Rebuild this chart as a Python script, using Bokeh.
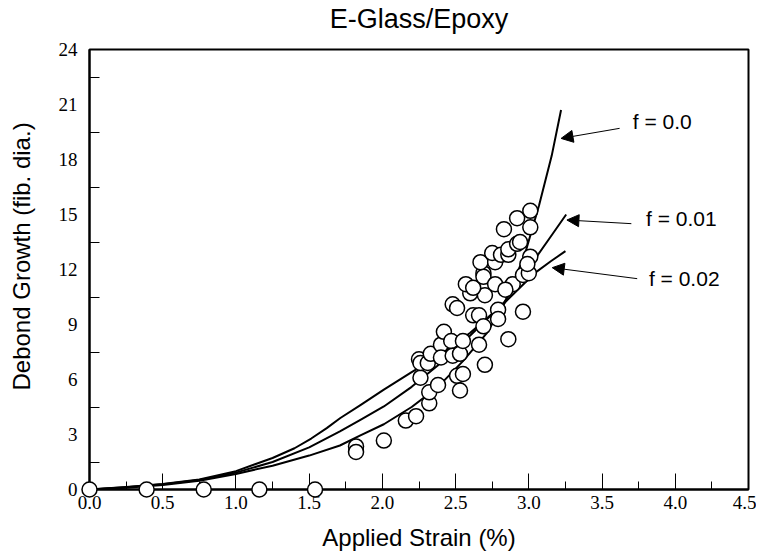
from bokeh.plotting import figure
from bokeh.models import Range1d, Label, Arrow, NormalHead, FixedTicker, Title
from bokeh.embed import file_html
from bokeh.resources import INLINE

# --- data -------------------------------------------------------------
strain_pts = [0.0, 0.39, 0.78, 1.16, 1.54,
              1.82, 1.82, 2.01, 2.16, 2.23, 2.32, 2.32, 2.38, 2.51, 2.53, 2.55,
              2.26, 2.25, 2.26, 2.31, 2.33, 2.40, 2.40, 2.42, 2.47, 2.48, 2.53,
              2.48, 2.51, 2.62, 2.66, 2.79, 2.79, 2.96, 2.69, 2.86, 2.66, 2.70,
              2.55, 2.60, 2.70, 2.57, 2.62, 2.69, 2.69, 2.77, 2.89, 2.84, 2.96,
              3.00, 2.67, 2.77, 2.75, 2.81, 2.86, 2.86, 2.92, 2.94, 3.01, 2.99,
              2.83, 2.92, 3.01, 3.01]
debond_pts = [0.0, 0.0, 0.0, 0.0, 0.0,
              2.35, 2.05, 2.67, 3.76, 4.0, 4.7, 5.3, 5.7, 6.2, 5.4, 6.3,
              6.1, 7.1, 6.9, 6.9, 7.4, 7.9, 7.2, 8.6, 8.1, 7.3, 7.4,
              10.1, 9.9, 9.5, 9.5, 9.8, 9.3, 9.7, 8.9, 8.2, 7.9, 6.8,
              8.1, 10.7, 10.6, 11.2, 11.0, 11.8, 11.6, 11.2, 11.2, 10.9, 11.7,
              11.8, 12.4, 12.4, 12.9, 12.8, 12.8, 13.1, 13.4, 13.5, 12.7, 12.3,
              14.2, 14.8, 15.2, 14.3]

f00_x = [0.0, 0.25, 0.5, 0.75, 1.0, 1.25, 1.5, 1.71, 1.85, 2.01, 2.2, 2.38,
         2.55, 2.71, 2.83, 2.97, 3.07, 3.156, 3.22]
f00_y = [0.0, 0.1, 0.25, 0.48, 0.85, 1.3, 1.85, 2.4, 2.95, 3.56, 4.5, 5.6,
         7.0, 8.5, 10.1, 12.75, 15.5, 18.2, 20.7]
f01_x = [0.0, 0.25, 0.5, 0.75, 1.0, 1.25, 1.5, 1.71, 1.85, 2.01, 2.2, 2.376,
         2.6, 2.83, 3.04, 3.15, 3.255]
f01_y = [0.0, 0.12, 0.28, 0.52, 0.92, 1.5, 2.3, 3.17, 3.8, 4.53, 5.6, 6.75,
         8.4, 10.2, 12.55, 13.8, 15.0]
f02_x = [0.0, 0.25, 0.5, 0.75, 1.0, 1.25, 1.4, 1.514, 1.62, 1.713, 1.85, 2.01,
         2.2, 2.376, 2.6, 2.83, 3.04, 3.15, 3.25]
f02_y = [0.0, 0.13, 0.3, 0.55, 1.0, 1.72, 2.25, 2.78, 3.35, 3.9, 4.6, 5.45,
         6.4, 7.25, 8.55, 10.15, 11.8, 12.45, 13.0]

x_ticks = [0.0, 0.5, 1.0, 1.5, 2.0, 2.5, 3.0, 3.5, 4.0, 4.5]
x_minor = [0.25, 0.75, 1.25, 1.75, 2.25, 2.75, 3.25, 3.75, 4.25]
y_ticks = [0, 3, 6, 9, 12, 15, 18, 21, 24]
y_minor = [1.5, 4.5, 7.5, 10.5, 13.5, 16.5, 19.5, 22.5]

labels = ["f = 0.0", "f = 0.01", "f = 0.02"]
label_x = [3.71, 3.80, 3.82]
label_y = [20.1, 14.8, 11.5]
arrow_tail_x = [3.62, 3.70, 3.74]
arrow_tail_y = [19.7, 14.5, 11.5]
arrow_head_x = [3.22, 3.26, 3.16]
arrow_head_y = [19.15, 14.7, 12.1]

# --- figure -----------------------------------------------------------
p = figure(width=756, height=556, output_backend="svg", toolbar_location=None,
           x_range=Range1d(0, 4.5), y_range=Range1d(0, 24),
           min_border_left=89, min_border_right=8, min_border_top=49,
           min_border_bottom=67)
p.background_fill_color = "white"
p.border_fill_color = "white"
p.outline_line_color = "black"
p.outline_line_width = 2
p.xgrid.visible = False
p.ygrid.visible = False

serif = "Liberation Serif"
sans = "Liberation Sans"

for ax in (p.xaxis[0], p.yaxis[0]):
    ax.axis_line_width = 2
    ax.axis_line_color = "black"
    ax.major_tick_out = 0
    ax.minor_tick_out = 0
    ax.major_tick_line_width = 1
    ax.minor_tick_line_width = 1
    ax.major_label_text_font = serif
    ax.major_label_text_font_size = "19px"
    ax.major_label_text_color = "black"

p.xaxis.ticker = FixedTicker(ticks=x_ticks, minor_ticks=x_minor)
p.xaxis.major_label_overrides = {t: f"{t:.1f}" for t in x_ticks}
p.xaxis.major_tick_in = 16
p.xaxis.minor_tick_in = 8
p.xaxis.major_label_standoff = 6
p.xaxis.axis_label = "Applied Strain (%)"
p.xaxis.axis_label_text_font = sans
p.xaxis.axis_label_text_font_size = "24px"
p.xaxis.axis_label_text_font_style = "normal"
p.xaxis.axis_label_text_color = "black"
p.xaxis.axis_label_standoff = 12

p.yaxis.ticker = FixedTicker(ticks=y_ticks, minor_ticks=y_minor)
p.yaxis.major_label_overrides = {t: str(t) for t in y_ticks}
p.yaxis.major_tick_in = 0
p.yaxis.minor_tick_in = 10
p.yaxis.major_label_standoff = 12

# curves
for xs, ys in ((f00_x, f00_y), (f01_x, f01_y), (f02_x, f02_y)):
    p.line(xs, ys, line_color="black", line_width=2, line_join="round")

# data points
r = p.scatter(strain_pts, debond_pts, size=15, marker="circle",
              fill_color="white", line_color="black", line_width=1.5)
r.level = "overlay"

# annotations
for t, lx, ly in zip(labels, label_x, label_y):
    p.add_layout(Label(x=lx, y=ly, text=t, text_font=sans,
                       text_font_size="21px", text_baseline="middle",
                       text_align="left", text_color="black"))
for tx, ty, hx, hy in zip(arrow_tail_x, arrow_tail_y, arrow_head_x, arrow_head_y):
    p.add_layout(Arrow(x_start=tx, y_start=ty, x_end=hx, y_end=hy,
                       line_color="black", line_width=1,
                       end=NormalHead(size=12, fill_color="black",
                                      line_color="black", line_width=1)))

# spacers (closest to the frame) then the real titles
p.add_layout(Title(text=" ", text_font_size="1px", standoff=13), "above")
p.add_layout(Title(text="E-Glass/Epoxy", text_font=sans, text_font_size="27px",
                   text_font_style="normal", text_color="black",
                   align="center", standoff=0), "above")
p.add_layout(Title(text=" ", text_font_size="1px", standoff=18), "left")
p.add_layout(Title(text="Debond Growth (fib. dia.)", text_font=sans,
                   text_font_size="24px", text_font_style="normal",
                   text_color="black", align="left", offset=99,
                   standoff=0), "left")

open("out.html", "w").write(file_html(p, INLINE))
